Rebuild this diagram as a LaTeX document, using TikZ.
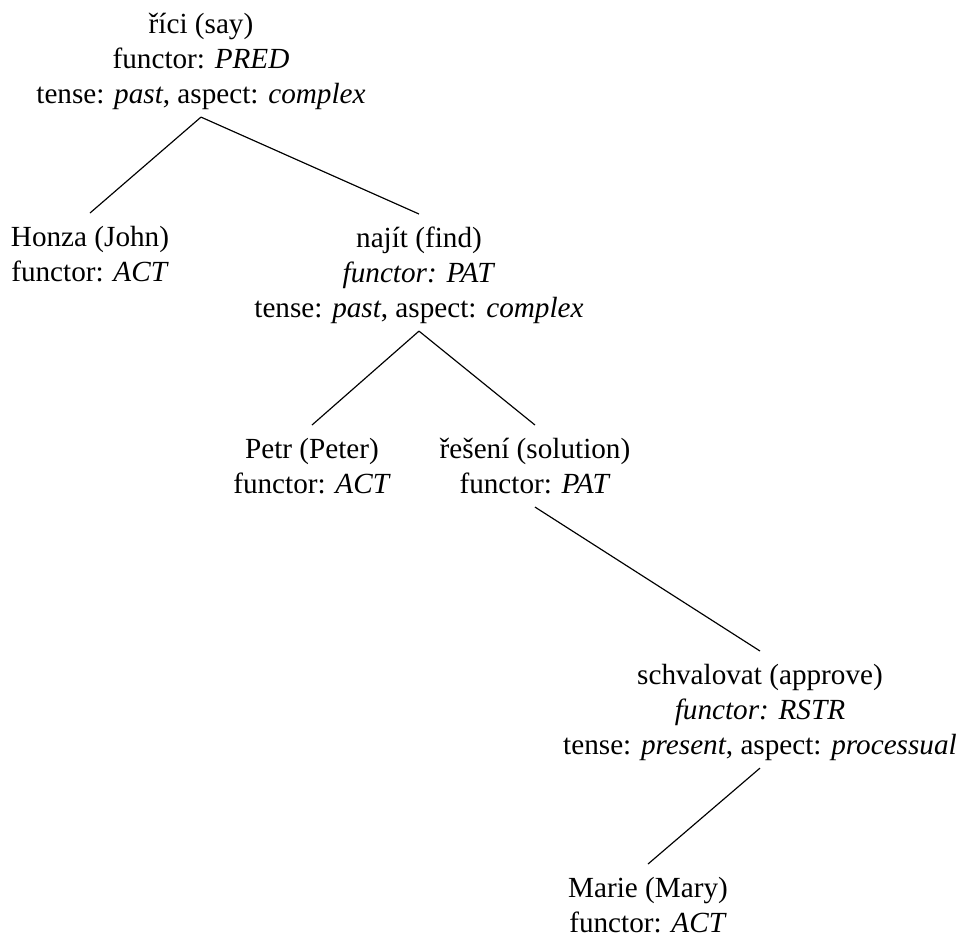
\documentclass[tikz,border=0pt]{standalone}
\usepackage{fontspec}
\setmainfont{Liberation Serif}
\newcommand{\tlines}[1]{\begin{tabular}[t]{@{}c@{}}#1\end{tabular}}
\begin{document}
\begin{tikzpicture}[x=0.3425pt,y=-0.3425pt,
  tnode/.style={inner sep=0pt, outer sep=0pt, anchor=base},
  branch/.style={line width=0.4pt, black}]
\useasboundingbox (0,0) rectangle (959,940);

% tree nodes (placed at the baseline of their first line)
\node[tnode] (root)   at (201,33)  {\tlines{říci (say)\\ functor: \textit{PRED}\\ tense: \textit{past}, aspect: \textit{complex}}};
\node[tnode] (honza)  at (90,246)  {\tlines{Honza (John)\\ functor: \textit{ACT}}};
\node[tnode] (najit)  at (419,247) {\tlines{najít (find)\\ \textit{functor: PAT}\\ tense: \textit{past}, aspect: \textit{complex}}};
\node[tnode] (petr)   at (312,458) {\tlines{Petr (Peter)\\ functor: \textit{ACT}}};
\node[tnode] (reseni) at (535,458) {\tlines{řešení (solution)\\ functor: \textit{PAT}}};
\node[tnode] (schv)   at (760,684) {\tlines{schvalovat (approve)\\ \textit{functor: RSTR}\\ tense: \textit{present}, aspect: \textit{processual}}};
\node[tnode] (marie)  at (648,897) {\tlines{Marie (Mary)\\ functor: \textit{ACT}}};

% dependency branches
\draw[branch] ([yshift=-1.2pt]root.south)   -- ([yshift=2.9pt]honza.north);
\draw[branch] ([yshift=-1.2pt]root.south)   -- ([yshift=2.9pt]najit.north);
\draw[branch] ([yshift=-1.2pt]najit.south)  -- ([yshift=2.9pt]petr.north);
\draw[branch] ([yshift=-1.2pt]najit.south)  -- ([yshift=2.9pt]reseni.north);
\draw[branch] ([yshift=-1.2pt]reseni.south) -- ([yshift=2.9pt]schv.north);
\draw[branch] ([yshift=-1.2pt]schv.south)   -- ([yshift=2.9pt]marie.north);
\end{tikzpicture}
\end{document}
